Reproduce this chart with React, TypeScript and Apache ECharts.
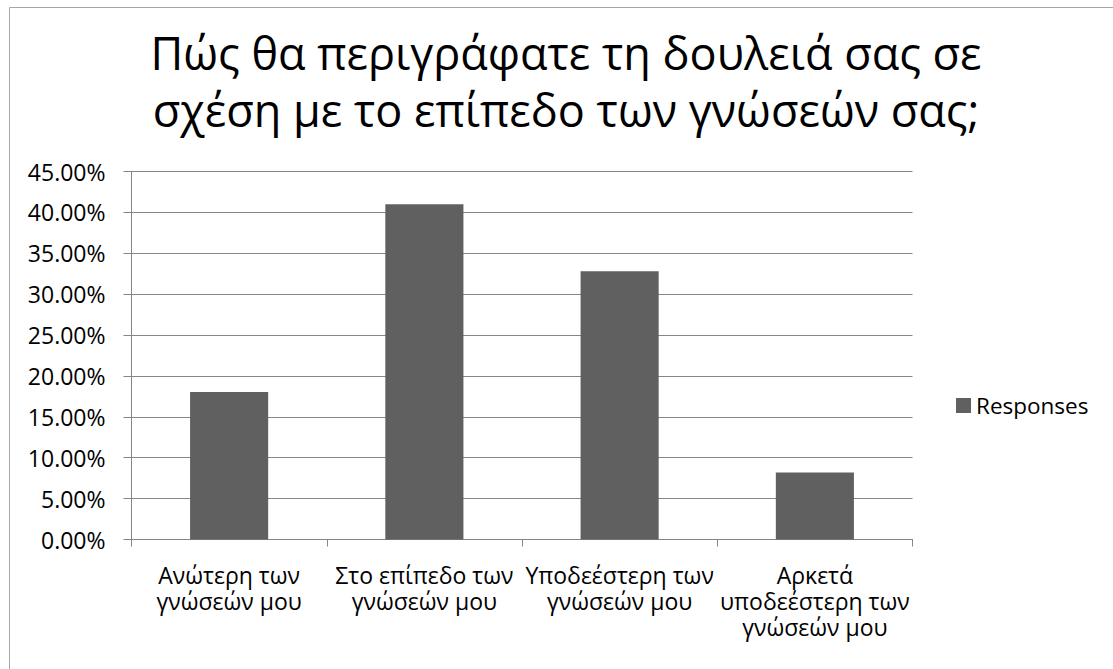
import React, { useEffect, useRef } from "react";
import * as echarts from "echarts";

const titleLines = ["Πώς θα περιγράφατε τη δουλειά σας σε", "σχέση με το επίπεδο των γνώσεών σας;"];
const categories = [
  "Ανώτερη των\nγνώσεών μου",
  "Στο επίπεδο των\nγνώσεών μου",
  "Υποδεέστερη των\nγνώσεών μου",
  "Αρκετά\nυποδεέστερη των\nγνώσεών μου",
];
const seriesName = "Responses";
const responses = [18.03, 40.98, 32.79, 8.2];
const yMin = 0;
const yMax = 45;
const yInterval = 5;

const FONT = "'Open Sans', sans-serif";

export default function App() {
  const ref = useRef<HTMLDivElement>(null);
  useEffect(() => {
    if (!ref.current) return;
    const chart = echarts.init(ref.current, undefined, { renderer: "svg" });
    chart.setOption({
      animation: false,
      backgroundColor: "#ffffff",
      title: {
        text: titleLines.join("\n"),
        left: 561,
        top: 19,
        textAlign: "center",
        padding: 5,
        textStyle: {
          fontFamily: FONT,
          fontSize: 45,
          fontWeight: "normal",
          color: "#000000",
          lineHeight: 57,
        },
      },
      graphic: [
        {
          type: "rect",
          silent: true,
          z: -1,
          shape: { x: 9.5, y: 7.5, width: 1200, height: 700 },
          style: { fill: "none", stroke: "#a6a6a6", lineWidth: 1 },
        },
      ],
      legend: {
        show: true,
        orient: "vertical",
        left: 951,
        top: 389,
        icon: "rect",
        itemWidth: 15,
        itemHeight: 15,
        itemGap: 10,
        textStyle: { fontFamily: FONT, fontSize: 22.5, color: "#000000" },
        data: [seriesName],
      },
      grid: { left: 131.5, right: 200.5, top: 171.5, bottom: 129.5, containLabel: false },
      xAxis: {
        type: "category",
        data: categories,
        axisLine: { show: true, lineStyle: { color: "#868686", width: 1 } },
        axisTick: { show: true, length: 7, lineStyle: { color: "#868686" } },
        axisLabel: {
          interval: 0,
          margin: 22,
          fontFamily: FONT,
          fontSize: 23,
          lineHeight: 26,
          color: "#000000",
          align: "center",
        },
      },
      yAxis: {
        type: "value",
        min: yMin,
        max: yMax,
        interval: yInterval,
        axisLine: { show: true, lineStyle: { color: "#868686", width: 1 } },
        axisTick: { show: true, length: 8, lineStyle: { color: "#868686" } },
        splitLine: { show: true, lineStyle: { color: "#868686", width: 1 } },
        axisLabel: {
          margin: 26,
          fontFamily: FONT,
          fontSize: 23,
          color: "#000000",
          formatter: (v: number) => v.toFixed(2) + "%",
        },
      },
      series: [
        {
          name: seriesName,
          type: "bar",
          data: responses,
          barCategoryGap: "60%",
          itemStyle: { color: "#606060" },
        },
      ],
    });
    return () => chart.dispose();
  }, []);
  return (
    <div
      ref={ref}
      style={{ position: "fixed", left: 0, top: 0, width: 1113, height: 669, background: "#fff" }}
    />
  );
}
